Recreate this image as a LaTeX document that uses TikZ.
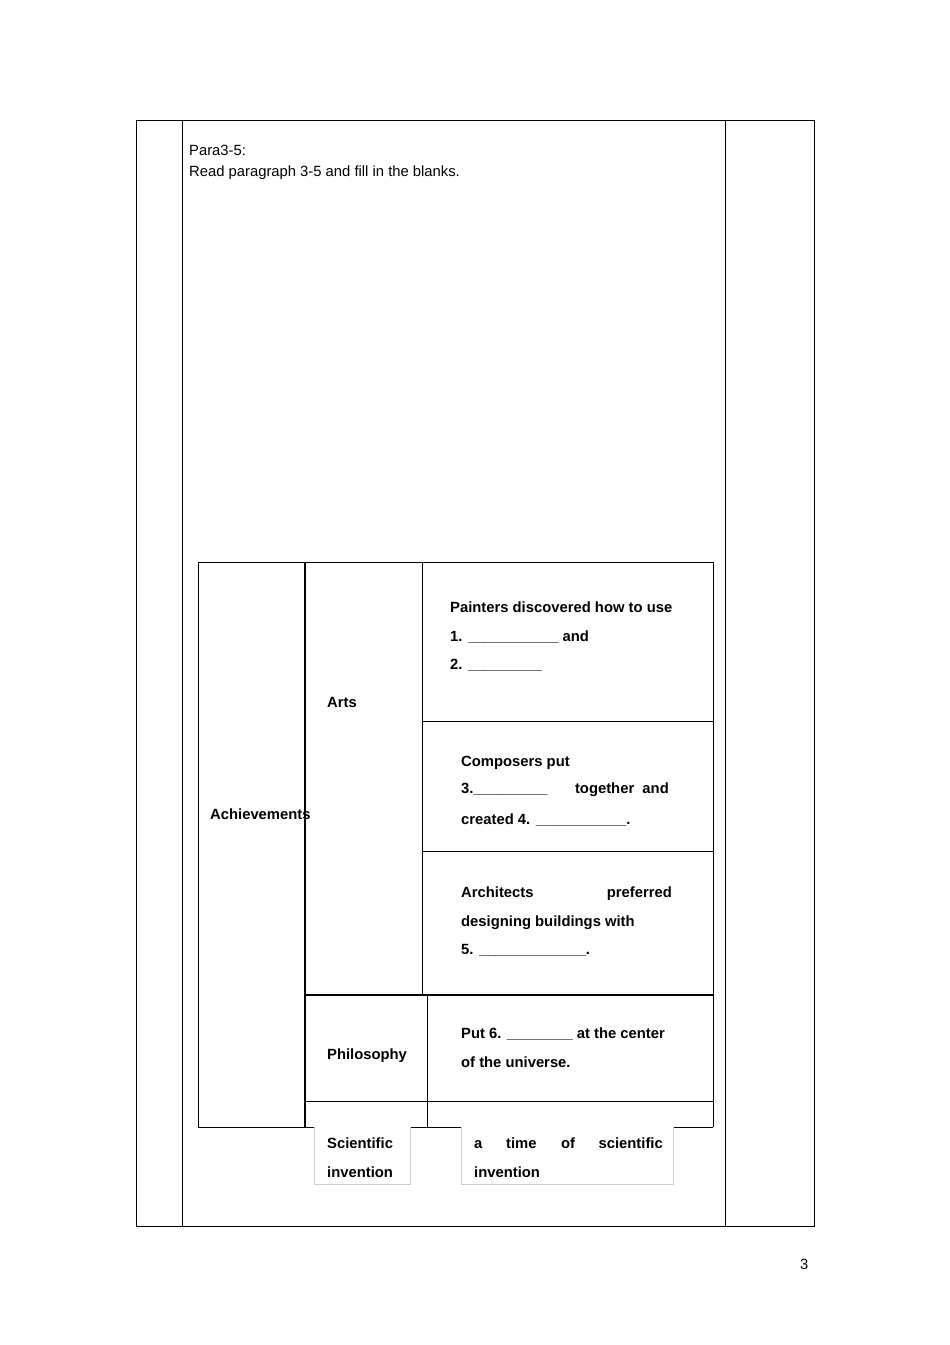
\documentclass[tikz,border=0pt]{standalone}
\usepackage{fontspec}
\setmainfont{Liberation Sans}
\begin{document}
\begin{tikzpicture}[x=1pt,y=-1pt,
  thin line/.style={line width=0.8pt},
  thick line/.style={line width=1.6pt},
  gbox/.style={draw=black!20,line width=0.6pt},
  lbl/.style={anchor=base west,inner sep=0pt,font=\bfseries\fontsize{14.8}{17}\selectfont},
  plain/.style={anchor=base west,inner sep=0pt,font=\fontsize{14.8}{17}\selectfont}]
\useasboundingbox (0,0) rectangle (950,1345);
% outer table
\draw[thin line] (136,120) rectangle (814,1226);
\draw[thin line] (182,120) -- (182,1226);
\draw[thin line] (725,120) -- (725,1226);
\node[plain] (p1) at (189,155) {Para3-5:};
\node[plain] (p2) at (189,176) {Read paragraph 3-5 and fill in the blanks.};
% inner table
\draw[thin line] (198,562) -- (713,562) -- (713,1127);
\draw[thin line] (198,562) -- (198,1127) -- (314,1127);
\draw[thin line] (410,1127) -- (461,1127);
\draw[thin line] (673,1127) -- (713,1127);
\draw[thick line] (305,562) -- (305,1127);
\draw[thin line] (422,562) -- (422,995);
\draw[thin line] (427,995) -- (427,1127);
\draw[thin line] (422,721) -- (713,721);
\draw[thin line] (422,851) -- (713,851);
\draw[thick line] (305,995) -- (713,995);
\draw[thin line] (305,1101) -- (713,1101);
\draw[gbox] (314,1127) -- (314,1184) -- (410,1184) -- (410,1127);
\draw[gbox] (461,1127) -- (461,1184) -- (673,1184) -- (673,1127);
% texts
\node[lbl] (ach) at (210,819) {Achievements};
\node[lbl] (arts) at (327,707) {Arts};
\node[lbl] (phil) at (327,1059) {Philosophy};
\node[lbl] (sci1) at (327,1148) {Scientific};
\node[lbl] (sci2) at (327,1177) {invention};
\node[lbl] (a1) at (450,612) {Painters discovered how to use};
\node[lbl] (a2) at (450,641) {1. \_\_\_\_\_\_\_\_\_\_\_ and};
\node[lbl] (a3) at (450,669) {2. \_\_\_\_\_\_\_\_\_};
\node[lbl] (b1) at (461,766) {Composers put};
\node[lbl] (b2) at (461,793) {3.\_\_\_\_\_\_\_\_\_};
\node[lbl,anchor=base east] (b2r) at (669,793) {together\ \ and};
\node[lbl] (b3) at (461,824) {created 4. \_\_\_\_\_\_\_\_\_\_\_.};
\node[lbl] (c1) at (461,897) {Architects};
\node[lbl,anchor=base east] (c1r) at (672,897) {preferred};
\node[lbl] (c2) at (461,926) {designing buildings with};
\node[lbl] (c3) at (461,954) {5. \_\_\_\_\_\_\_\_\_\_\_\_\_.};
\node[lbl] (d1) at (461,1038) {Put 6. \_\_\_\_\_\_\_\_ at the center};
\node[lbl] (d2) at (461,1067) {of the universe.};
\node[lbl] (e1) at (474,1148) {a};
\node[lbl] (e2) at (506,1148) {time};
\node[lbl] (e3) at (561,1148) {of};
\node[lbl,anchor=base east] (e4) at (663,1148) {scientific};
\node[lbl] (e5) at (474,1177) {invention};
\node[plain] (pg) at (800,1269) {3};
\end{tikzpicture}
\end{document}
